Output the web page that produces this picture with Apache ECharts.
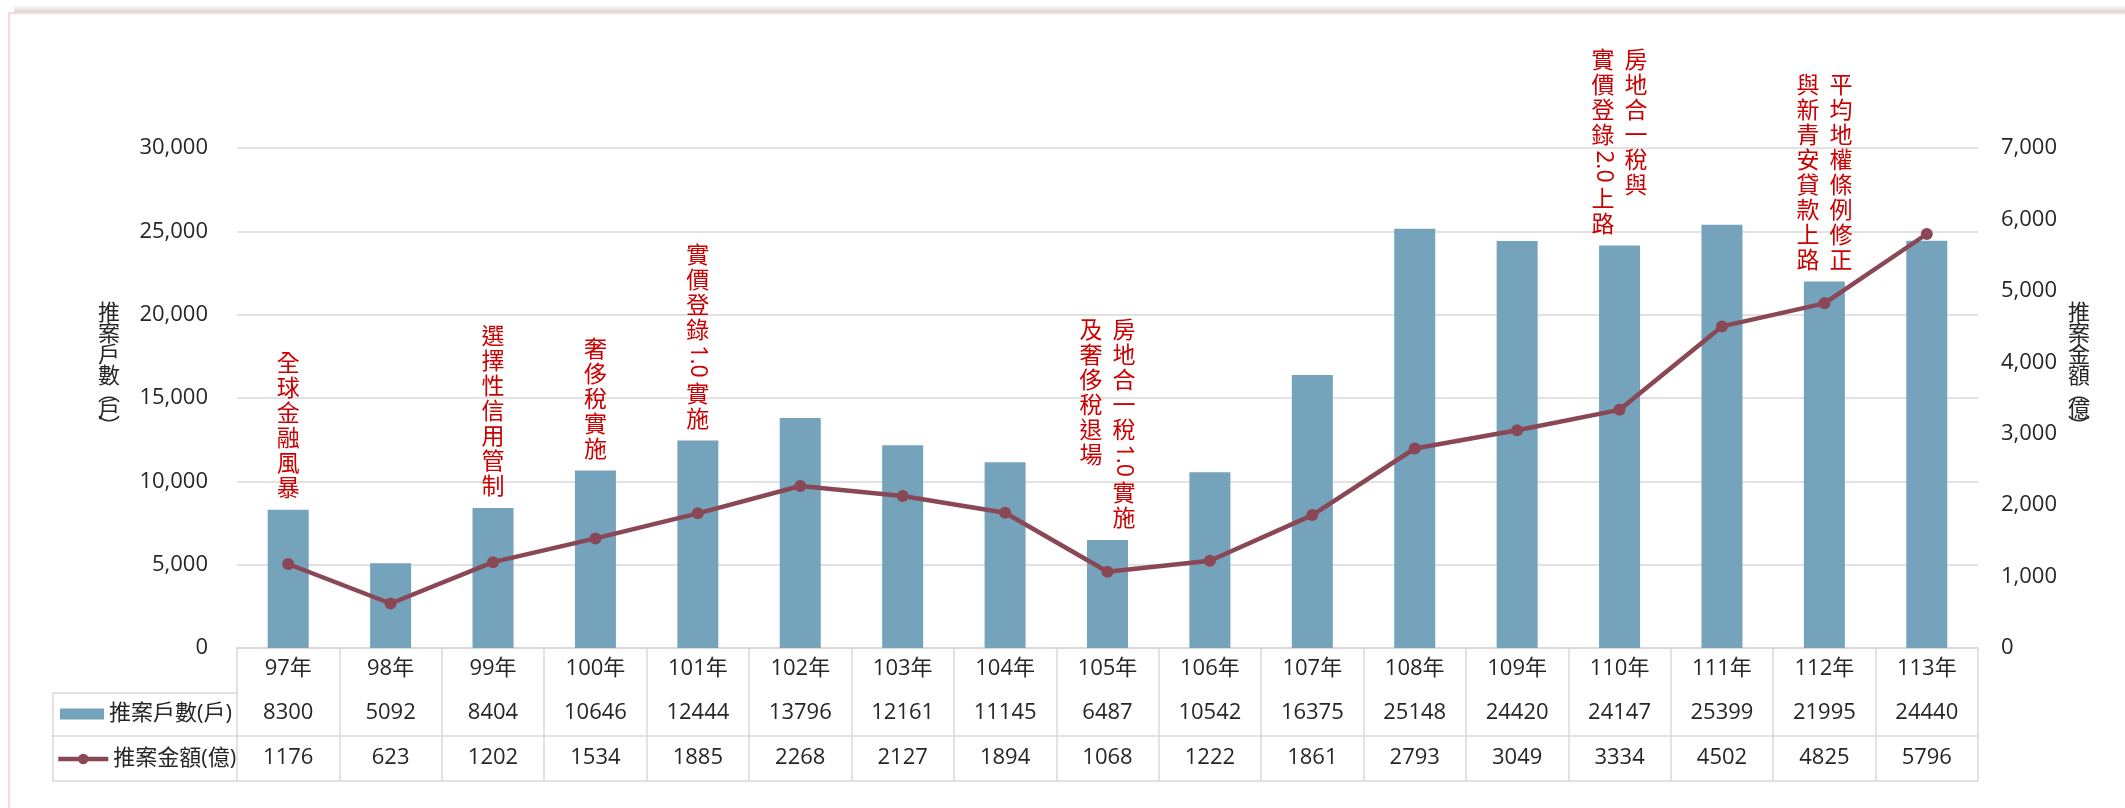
<!DOCTYPE html>
<html>
<head>
<meta charset="utf-8">
<script src="https://cdn.jsdelivr.net/npm/echarts@6/dist/echarts.min.js"></script>
<style>
html,body{margin:0;padding:0;background:#fff;}
#chart{width:2125px;height:808px;}
</style>
</head>
<body>
<div id="chart"></div>
<script>
// ---- data ----
const categories = ['97年','98年','99年','100年','101年','102年','103年','104年','105年','106年','107年','108年','109年','110年','111年','112年','113年'];
const units = [8300,5092,8404,10646,12444,13796,12161,11145,6487,10542,16375,25148,24420,24147,25399,21995,24440];
const amounts = [1176,623,1202,1534,1885,2268,2127,1894,1068,1222,1861,2793,3049,3334,4502,4825,5796];
const seriesNames = ['推案戶數(戶)','推案金額(億)'];
const leftAxis = {min:0, max:30000, interval:5000};
const rightAxis = {min:0, max:7000, interval:1000};
const noteCats = ['97年','99年','100年','101年','105年','110年','112年'];
const noteTexts = [
  ['全球金融風暴'],
  ['選擇性信用管制'],
  ['奢侈稅實施'],
  ['實價登錄1.0實施'],
  ['房地合一稅1.0實施','及奢侈稅退場'],
  ['房地合一稅與','實價登錄2.0上路'],
  ['平均地權條例修正','與新青安貸款上路']
];

// ---- styling ----
const FONT = '"Open Sans","Noto Sans CJK TC","Noto Sans CJK SC",sans-serif';
const CJK = '"Noto Sans CJK TC","Noto Sans CJK SC",sans-serif';
const TXT = '#262626';
const GRIDC = '#d9d9d9';
const BAR_C = '#74a3bb';
const LINE_C = '#8a4755';
const NOTE_C = '#cc0000';
const NOTE_FS = 23, NOTE_PITCH = 25, NOTE_GAP = 10, COL_SP = 33;

const cv = document.createElement('canvas').getContext('2d');
cv.font = NOTE_FS + 'px ' + FONT;
function splitRuns(s){
  const out = []; let buf = '';
  for (const ch of s){
    if (/[0-9.]/.test(ch)) { buf += ch; }
    else { if (buf){ out.push(buf); buf=''; } out.push(ch); }
  }
  if (buf) out.push(buf);
  return out;
}
function isLatin(seg){ return /^[0-9.]+$/.test(seg); }
function segLen(seg){ return isLatin(seg) ? cv.measureText(seg).width + 6 : NOTE_PITCH; }

function renderNote(params, api){
  const pt = api.coord([api.value(0), api.value(1)]);
  const cols = noteTexts[params.dataIndex];
  const runs = cols.map(splitRuns);
  const hs = runs.map(r => r.reduce((s, g) => s + segLen(g), 0));
  const maxH = Math.max.apply(null, hs);
  const y0 = pt[1] - NOTE_GAP - maxH;
  const children = [];
  runs.forEach((r, ci) => {
    const x = pt[0] + (cols.length === 1 ? 0 : (ci === 0 ? COL_SP/2 : -COL_SP/2));
    let y = y0;
    r.forEach(g => {
      const L = segLen(g);
      const el = {
        type:'text', x:x, y:y + L/2,
        style:{text:g, fill:NOTE_C, font: NOTE_FS + 'px ' + (isLatin(g) ? FONT : CJK), align:'center', verticalAlign:'middle'}
      };
      if (isLatin(g)) el.rotation = -Math.PI/2;
      children.push(el);
      y += L;
    });
  });
  return {type:'group', children:children};
}

function vname(s){
  return s.split('').map(ch => (ch === '(' ? '{p|︵}' : ch === ')' ? '{p|︶}' : '{a|' + ch + '}')).join('\n');
}
const nameRich = {
  a:{fontSize:22, lineHeight:21, fontFamily:CJK, color:TXT},
  p:{fontSize:22, lineHeight:13, fontFamily:CJK, color:TXT}
};

const GRID_L = 237, GRID_R = 147, GRID_T = 148, GRID_B = 160;
const ROW = [45, 88, 133];

const chart = echarts.init(document.getElementById('chart'), null, {renderer:'canvas'});
const catAxisBase = {
  type:'category', data:categories, gridIndex:0, position:'bottom',
  axisLine:{show:true, lineStyle:{color:GRIDC, width:1.5}},
  axisTick:{show:false},
  splitLine:{show:false}
};
const lbl = {interval:0, fontSize:22, color:TXT, fontFamily:FONT};
chart.setOption({
  animation:false,
  backgroundColor:'#fff',
  textStyle:{fontFamily:FONT},
  grid:{left:GRID_L, right:GRID_R, top:GRID_T, bottom:GRID_B, containLabel:false},
  legend:[
    {data:[seriesNames[0]], left:60, top:702, padding:0, icon:'rect', itemWidth:44, itemHeight:11,
     textStyle:{fontSize:22, color:TXT, fontFamily:FONT, lineHeight:24}},
    {data:[seriesNames[1]], left:56, top:747, padding:0, itemWidth:50, itemHeight:13,
     lineStyle:{width:4.5, color:LINE_C},
     textStyle:{fontSize:22, color:TXT, fontFamily:FONT, lineHeight:24}}
  ],
  xAxis:[
    Object.assign({}, catAxisBase, {
      axisTick:{show:true, interval:0, alignWithLabel:false, length:133, lineStyle:{color:GRIDC, width:1.5}},
      axisLabel:Object.assign({margin:10}, lbl)
    }),
    Object.assign({}, catAxisBase, {offset:ROW[0],
      axisLabel:Object.assign({margin:9, formatter:(v,i)=>String(units[i])}, lbl)}),
    Object.assign({}, catAxisBase, {offset:ROW[1],
      axisLabel:Object.assign({margin:11, formatter:(v,i)=>String(amounts[i])}, lbl)}),
    Object.assign({}, catAxisBase, {offset:ROW[2], axisLabel:{show:false}})
  ],
  yAxis:[
    {type:'value', min:leftAxis.min, max:leftAxis.max, interval:leftAxis.interval, position:'left',
     axisLine:{show:false}, axisTick:{show:false},
     axisLabel:{margin:29, fontSize:22, color:TXT, fontFamily:FONT},
     splitLine:{show:true, lineStyle:{color:GRIDC, width:1.5}},
     name:vname('推案戶數(戶)'), nameLocation:'middle', nameRotate:0, nameGap:117,
     nameTextStyle:{rich:nameRich, padding:[0,0,62,0]}},
    {type:'value', min:rightAxis.min, max:rightAxis.max, interval:rightAxis.interval, position:'right',
     axisLine:{show:false}, axisTick:{show:false},
     axisLabel:{margin:23, fontSize:22, color:TXT, fontFamily:FONT},
     splitLine:{show:false},
     name:vname('推案金額(億)'), nameLocation:'middle', nameRotate:0, nameGap:90,
     nameTextStyle:{rich:nameRich, padding:[0,0,62,0]}}
  ],
  series:[
    {name:seriesNames[0], type:'bar', data:units, xAxisIndex:0, yAxisIndex:0, barWidth:41,
     itemStyle:{color:BAR_C}, z:2},
    {name:seriesNames[1], type:'line', data:amounts, xAxisIndex:0, yAxisIndex:1,
     symbol:'circle', symbolSize:12, lineStyle:{color:LINE_C, width:4.5}, itemStyle:{color:LINE_C}, z:4},
    {type:'custom', xAxisIndex:0, yAxisIndex:0, silent:true, z:5,
     data:noteCats.map(c => { const i = categories.indexOf(c); return [i, units[i]]; }),
     encode:{x:0, y:1}, renderItem:renderNote}
  ],
  graphic:[
    {type:'rect', silent:true, z:-1, shape:{x:14, y:5, width:2111, height:8},
     style:{fill:new echarts.graphic.LinearGradient(0,0,0,1,[{offset:0,color:'rgba(0,0,0,0)'},{offset:1,color:'rgba(0,0,0,0.18)'}])}},
    {type:'rect', silent:true, shape:{x:9, y:13, width:2200, height:900},
     style:{fill:'none', stroke:'#f6d8d8', lineWidth:2}},
    // legend column of the data table
    {type:'line', silent:true, shape:{x1:53, y1:693, x2:GRID_L, y2:693}, style:{stroke:GRIDC, lineWidth:1.5}},
    {type:'line', silent:true, shape:{x1:53, y1:736, x2:GRID_L, y2:736}, style:{stroke:GRIDC, lineWidth:1.5}},
    {type:'line', silent:true, shape:{x1:53, y1:781, x2:GRID_L, y2:781}, style:{stroke:GRIDC, lineWidth:1.5}},
    {type:'line', silent:true, shape:{x1:53, y1:693, x2:53, y2:781}, style:{stroke:GRIDC, lineWidth:1.5}}
  ]
});
</script>
</body>
</html>
